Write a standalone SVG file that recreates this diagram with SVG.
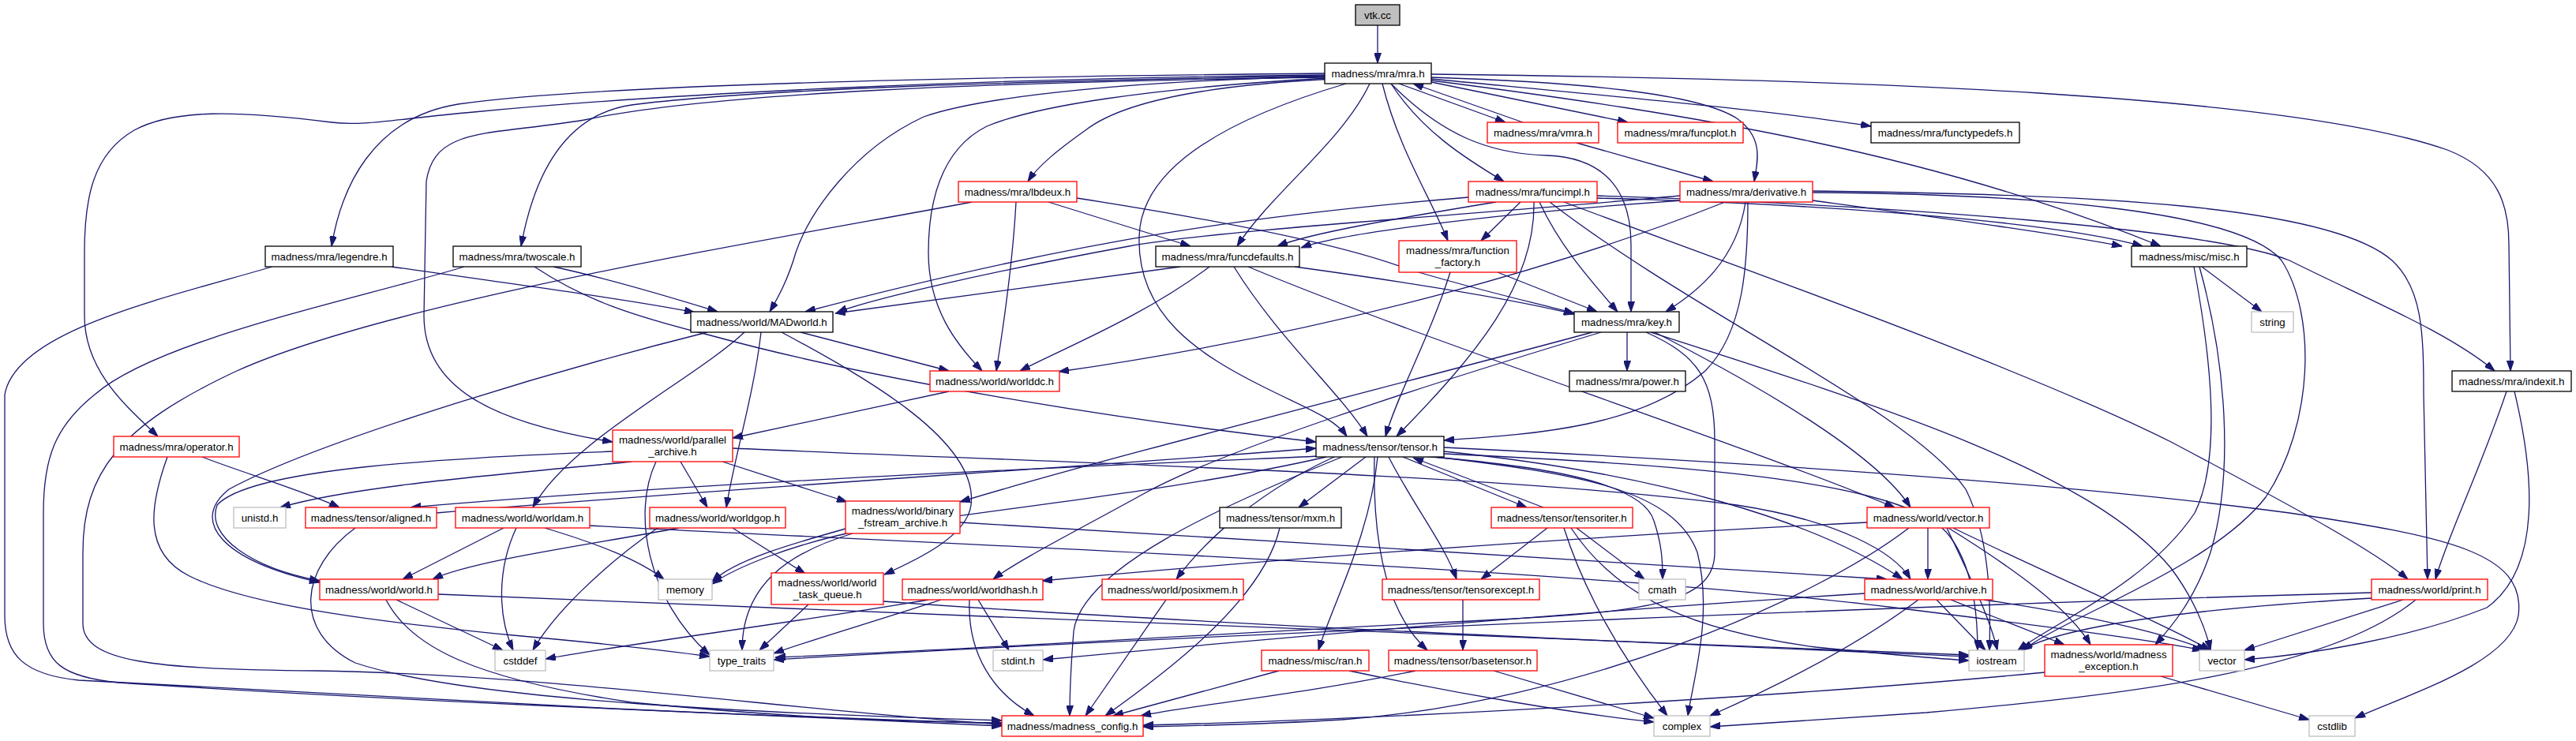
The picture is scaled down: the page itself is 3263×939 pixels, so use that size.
<svg xmlns="http://www.w3.org/2000/svg" width="3263" height="939" viewBox="0 0 3263 939">
<style>
rect{fill:#fff;stroke-width:1.3}
.k{stroke:#000}.r{stroke:#ff0000}.g{stroke:#bfbfbf}.s{fill:#bfbfbf;stroke:#000}
text{font-family:"Liberation Sans",Arial,sans-serif;font-size:13.3px;fill:#000;text-anchor:middle}
#edges path{fill:none;stroke:#191970;stroke-width:1.3;marker-end:url(#a)}
</style>
<defs><marker id="a" markerUnits="userSpaceOnUse" markerWidth="13" markerHeight="9" refX="13" refY="4.5" orient="auto"><path d="M0,0L13,4.5L0,9Z" fill="#191970" stroke="#191970" stroke-width="1"/></marker></defs>
<rect x="0" y="0" width="3263" height="939" style="fill:#fff;stroke:none"/>
<g id="edges">
<path d="M1745,32L1745,80"/>
<path d="M1678,93C1250,97 760,106 580,132C470,150 432,240 420,312"/>
<path d="M1678,96C1300,103 960,112 800,133C710,146 675,230 660,312"/>
<path d="M1678,95C1250,99 850,118 600,142C500,151 460,160 420,155C300,140 220,138 170,165C118,195 107,250 107,320L107,400C107,470 160,515 200,553"/>
<path d="M1678,98C1250,104 900,118 740,152C620,172 550,160 540,230L537,400C537,490 620,535 776,560"/>
<path d="M1690,100C1520,108 1420,130 1375,165C1340,190 1315,210 1302,230"/>
<path d="M1678,97C1450,102 1250,120 1170,148C1080,190 1025,270 1008,320C998,355 985,378 975,395"/>
<path d="M1680,99C1450,112 1310,135 1250,160C1190,190 1176,260 1176,320C1176,390 1210,435 1244,470"/>
<path d="M1735,106C1700,180 1610,245 1567,312"/>
<path d="M1705,106C1590,140 1445,200 1443,300C1440,400 1520,450 1600,490C1660,520 1690,530 1706,553"/>
<path d="M1762,106C1800,165 1855,200 1905,230"/>
<path d="M1751,106C1772,190 1812,250 1834,305"/>
<path d="M1772,106L1907,155"/>
<path d="M1929,155L1790,106"/>
<path d="M1813,104L2062,155"/>
<path d="M1813,100C2000,118 2250,140 2370,160"/>
<path d="M1813,98C2000,104 2150,118 2200,150C2235,175 2226,205 2222,230"/>
<path d="M1762,106C1825,170 1885,195 1960,197C2040,200 2066,250 2066,310L2066,395"/>
<path d="M1813,102C2150,145 2450,195 2737,312"/>
<path d="M1813,94C2350,100 2900,120 3100,190C3165,215 3178,260 3178,310L3180,470"/>
<path d="M1997,181L2170,230"/>
<path d="M1926,256L1876,305"/>
<path d="M1950,256C1975,310 2010,350 2049,395"/>
<path d="M1943,256C1945,360 1870,450 1769,553"/>
<path d="M1860,250C1600,272 1380,300 1020,395"/>
<path d="M1895,256C1780,275 1660,295 1618,312"/>
<path d="M2023,251C2300,258 2600,280 2714,312"/>
<path d="M1981,256C2150,320 2550,460 2750,560C2920,650 3010,700 3050,734"/>
<path d="M1963,256C2150,400 2420,520 2490,620C2520,680 2522,760 2520,824"/>
<path d="M2023,248C2400,260 2800,290 2900,330C3000,380 3100,420 3160,470"/>
<path d="M2128,248C1900,270 1550,290 1430,312C1250,345 1100,380 1060,396"/>
<path d="M2130,254C1900,270 1700,295 1648,314"/>
<path d="M2211,256C2200,330 2150,370 2110,395"/>
<path d="M2214,256C2214,330 2210,420 2160,470C2080,540 1950,550 1829,558"/>
<path d="M2296,254C2450,275 2600,295 2688,312"/>
<path d="M2185,256C2000,330 1700,420 1341,471"/>
<path d="M2296,244C2600,246 2840,270 2890,330C2935,400 2930,540 2870,630C2800,720 2620,780 2562,824"/>
<path d="M2296,242C2650,246 2950,260 3030,330C3068,365 3070,420 3070,500L3075,734"/>
<path d="M1231,256C1000,300 500,380 300,470C150,540 105,600 105,700L105,790C105,840 200,848 400,850C700,855 1000,900 1269,918"/>
<path d="M1287,256C1283,330 1270,420 1262,470"/>
<path d="M1328,256L1508,312"/>
<path d="M1364,251C1550,280 1700,310 1780,340C1880,370 1950,385 1994,397"/>
<path d="M496,338C650,360 800,380 880,396"/>
<path d="M345,338C200,380 20,420 6,500L6,780C6,830 30,855 100,862C400,880 900,905 1269,920"/>
<path d="M588,338C450,380 200,430 120,500C70,540 55,580 55,650L55,790C55,840 80,858 150,865C450,885 900,905 1269,917"/>
<path d="M701,338C780,355 860,380 909,395"/>
<path d="M677,338C740,380 800,400 900,425C1100,480 1400,530 1667,560"/>
<path d="M1495,338L1058,397"/>
<path d="M1532,338C1450,400 1350,440 1292,470"/>
<path d="M1563,338C1620,430 1700,500 1732,553"/>
<path d="M1581,338C1800,430 2200,560 2400,643"/>
<path d="M1640,338C1800,360 1920,380 1994,398"/>
<path d="M1897,345L2023,395"/>
<path d="M1837,345C1810,430 1770,500 1755,553"/>
<path d="M1014,421L1202,470"/>
<path d="M964,421C955,500 930,580 920,643"/>
<path d="M943,421C880,480 720,560 675,643"/>
<path d="M990,421C1100,480 1240,560 1230,640C1225,680 1160,710 1120,728"/>
<path d="M896,421C700,470 400,560 290,620C240,660 280,710 405,738"/>
<path d="M1202,496L928,555"/>
<path d="M256,579C310,600 380,620 430,643"/>
<path d="M212,579C190,640 180,700 240,730C320,770 500,790 650,805C760,815 850,825 899,832"/>
<path d="M776,572C600,580 320,590 275,640C260,680 320,720 405,736"/>
<path d="M862,585L896,643"/>
<path d="M915,585L1073,636"/>
<path d="M800,585C650,600 450,615 355,643"/>
<path d="M928,568C1300,585 1900,600 2200,640C2330,660 2400,700 2420,734"/>
<path d="M831,585C800,650 820,760 899,830"/>
<path d="M1672,578C1400,590 900,610 520,643"/>
<path d="M553,650C900,620 1400,590 1667,568"/>
<path d="M1730,579L1645,643"/>
<path d="M1745,579C1735,680 1690,760 1670,824"/>
<path d="M1741,579C1738,700 1760,780 1808,824"/>
<path d="M1759,579C1790,640 1830,690 1845,734"/>
<path d="M1777,579L1934,643"/>
<path d="M1955,643L1790,580"/>
<path d="M1800,578C1950,590 2080,610 2095,660C2105,690 2106,710 2106,734"/>
<path d="M1810,578C2000,600 2120,620 2150,700C2170,780 2145,860 2138,907"/>
<path d="M1829,572C2100,600 2300,660 2410,734"/>
<path d="M1829,567C2200,585 2600,610 2900,650C3100,680 3200,700 3190,780C3180,840 3050,880 2983,910"/>
<path d="M1829,575C2150,590 2420,610 2470,680C2500,720 2505,780 2505,824"/>
<path d="M1680,579C1500,620 1300,640 1100,670C1000,690 930,720 902,740"/>
<path d="M1690,579C1600,620 1530,680 1490,734"/>
<path d="M1700,579C1550,640 1370,720 1360,800C1356,850 1355,880 1355,907"/>
<path d="M1960,669L1876,734"/>
<path d="M1997,669L2083,734"/>
<path d="M1981,669C2010,760 2060,840 2112,907"/>
<path d="M1990,669C2050,760 2150,800 2300,820C2400,830 2460,835 2494,837"/>
<path d="M1853,760L1853,824"/>
<path d="M1793,850C1650,880 1500,895 1445,907"/>
<path d="M1892,850L2095,910"/>
<path d="M1620,850L1410,907"/>
<path d="M1709,850C1850,880 2000,905 2095,915"/>
<path d="M1621,669C1600,760 1480,850 1400,907"/>
<path d="M1477,760L1375,907"/>
<path d="M1228,760C1225,830 1260,880 1310,907"/>
<path d="M1239,760L1278,824"/>
<path d="M1192,760C1100,790 1030,810 980,828"/>
<path d="M1176,760C1000,790 800,815 691,835"/>
<path d="M1024,766L962,824"/>
<path d="M1119,762C1500,790 2100,815 2494,832"/>
<path d="M1080,676C1000,700 940,740 940,824"/>
<path d="M1071,670C1000,690 930,710 902,737"/>
<path d="M1216,662C1600,685 2100,715 2390,734"/>
<path d="M860,669C750,690 600,710 548,734"/>
<path d="M833,669C760,720 700,780 675,824"/>
<path d="M928,669L1020,727"/>
<path d="M638,669L510,734"/>
<path d="M654,669C630,720 630,780 650,824"/>
<path d="M690,669C760,690 810,710 841,734"/>
<path d="M747,666C1200,690 2000,720 2400,770C2600,795 2720,810 2790,824"/>
<path d="M489,760C520,820 600,860 800,890C1000,910 1150,915 1269,916"/>
<path d="M502,760L637,824"/>
<path d="M555,753C1200,780 2000,810 2494,830"/>
<path d="M450,669C380,720 370,800 450,840C600,890 1000,905 1269,913"/>
<path d="M2442,669L2442,734"/>
<path d="M2365,662C2000,680 1600,710 1320,736"/>
<path d="M2466,669C2490,720 2520,780 2530,824"/>
<path d="M2468,669C2550,720 2620,770 2648,817"/>
<path d="M2474,669C2600,730 2740,790 2800,824"/>
<path d="M2418,669C2300,760 2000,890 1700,912C1600,918 1500,920 1448,921"/>
<path d="M2453,760L2515,824"/>
<path d="M2471,760L2615,817"/>
<path d="M2513,760C2650,780 2750,805 2795,824"/>
<path d="M2430,760C2350,820 2250,870 2166,907"/>
<path d="M2362,752C2000,775 1600,810 1321,836"/>
<path d="M3004,758C2800,770 2620,790 2560,824"/>
<path d="M3044,760L2843,824"/>
<path d="M3060,760C2950,850 2700,880 2440,903C2300,912 2200,918 2166,921"/>
<path d="M3004,751C2500,765 1600,800 980,836"/>
<path d="M3175,496C3140,600 3100,680 3085,734"/>
<path d="M3185,496C3210,600 3220,720 3150,770C3050,810 2920,830 2843,836"/>
<path d="M2789,338L2865,395"/>
<path d="M2779,338C2800,450 2815,580 2780,650C2720,740 2600,790 2556,824"/>
<path d="M2786,338C2820,460 2830,600 2800,700C2780,760 2750,795 2730,817"/>
<path d="M2590,852C2300,880 1800,910 1448,919"/>
<path d="M2737,857L2925,912"/>
<path d="M2061,421L2061,470"/>
<path d="M2017,421C1800,480 1400,580 1216,636"/>
<path d="M2028,421C1800,490 1550,570 1450,625C1350,680 1290,710 1258,734"/>
<path d="M2085,421C2150,450 2172,480 2172,560L2172,700C2172,760 2100,775 1900,785C1500,805 1200,825 982,833"/>
<path d="M2091,421C2400,520 2650,600 2750,720C2780,760 2795,800 2800,824"/>
<path d="M2096,421C2250,500 2380,580 2420,643"/>
</g>
<g id="n_vtk"><rect class="s" x="1717" y="6" width="56" height="26"/><text x="1745" y="23.5">vtk.cc</text></g>
<g id="n_mra"><rect class="k" x="1678" y="80" width="135" height="26"/><text x="1745.5" y="97.5">madness/mra/mra.h</text></g>
<g id="n_vmra"><rect class="r" x="1884" y="155" width="141" height="26"/><text x="1954.5" y="172.5">madness/mra/vmra.h</text></g>
<g id="n_funcplot"><rect class="r" x="2049" y="155" width="159" height="26"/><text x="2128.5" y="172.5">madness/mra/funcplot.h</text></g>
<g id="n_functypedefs"><rect class="k" x="2370" y="155" width="188" height="26"/><text x="2464" y="172.5">madness/mra/functypedefs.h</text></g>
<g id="n_funcimpl"><rect class="r" x="1860" y="230" width="163" height="26"/><text x="1941.5" y="247.5">madness/mra/funcimpl.h</text></g>
<g id="n_derivative"><rect class="r" x="2128" y="230" width="168" height="26"/><text x="2212" y="247.5">madness/mra/derivative.h</text></g>
<g id="n_lbdeux"><rect class="r" x="1214" y="230" width="150" height="26"/><text x="1289" y="247.5">madness/mra/lbdeux.h</text></g>
<g id="n_function_factory"><rect class="r" x="1772" y="305" width="149" height="40"/><text x="1846.5" y="321.5">madness/mra/function</text><text x="1846.5" y="336.5">_factory.h</text></g>
<g id="n_legendre"><rect class="k" x="336" y="312" width="162" height="26"/><text x="417" y="329.5">madness/mra/legendre.h</text></g>
<g id="n_twoscale"><rect class="k" x="574" y="312" width="162" height="26"/><text x="655" y="329.5">madness/mra/twoscale.h</text></g>
<g id="n_funcdefaults"><rect class="k" x="1464" y="312" width="182" height="26"/><text x="1555" y="329.5">madness/mra/funcdefaults.h</text></g>
<g id="n_misc"><rect class="k" x="2700" y="312" width="146" height="26"/><text x="2773" y="329.5">madness/misc/misc.h</text></g>
<g id="n_MADworld"><rect class="k" x="875" y="395" width="180" height="26"/><text x="965" y="412.5">madness/world/MADworld.h</text></g>
<g id="n_key"><rect class="k" x="1994" y="395" width="133" height="26"/><text x="2060.5" y="412.5">madness/mra/key.h</text></g>
<g id="n_string"><rect class="g" x="2852" y="395" width="53" height="26"/><text x="2878.5" y="412.5">string</text></g>
<g id="n_worlddc"><rect class="r" x="1178" y="470" width="164" height="26"/><text x="1260" y="487.5">madness/world/worlddc.h</text></g>
<g id="n_power"><rect class="k" x="1988" y="470" width="147" height="26"/><text x="2061.5" y="487.5">madness/mra/power.h</text></g>
<g id="n_indexit"><rect class="k" x="3106" y="470" width="151" height="26"/><text x="3181.5" y="487.5">madness/mra/indexit.h</text></g>
<g id="n_operator"><rect class="r" x="144" y="553" width="159" height="26"/><text x="223.5" y="570.5">madness/mra/operator.h</text></g>
<g id="n_parallel_archive"><rect class="r" x="776" y="545" width="152" height="40"/><text x="852" y="561.5">madness/world/parallel</text><text x="852" y="576.5">_archive.h</text></g>
<g id="n_tensor"><rect class="k" x="1667" y="553" width="162" height="26"/><text x="1748" y="570.5">madness/tensor/tensor.h</text></g>
<g id="n_unistd"><rect class="g" x="296" y="643" width="66" height="26"/><text x="329" y="660.5">unistd.h</text></g>
<g id="n_aligned"><rect class="r" x="387" y="643" width="166" height="26"/><text x="470" y="660.5">madness/tensor/aligned.h</text></g>
<g id="n_worldam"><rect class="r" x="577" y="643" width="170" height="26"/><text x="662" y="660.5">madness/world/worldam.h</text></g>
<g id="n_worldgop"><rect class="r" x="823" y="643" width="172" height="26"/><text x="909" y="660.5">madness/world/worldgop.h</text></g>
<g id="n_binary"><rect class="r" x="1071" y="635" width="145" height="41"/><text x="1143.5" y="651.5">madness/world/binary</text><text x="1143.5" y="666.5">_fstream_archive.h</text></g>
<g id="n_mxm"><rect class="k" x="1545" y="643" width="154" height="26"/><text x="1622" y="660.5">madness/tensor/mxm.h</text></g>
<g id="n_tensoriter"><rect class="r" x="1889" y="643" width="179" height="26"/><text x="1978.5" y="660.5">madness/tensor/tensoriter.h</text></g>
<g id="n_vector_h"><rect class="r" x="2365" y="643" width="155" height="26"/><text x="2442.5" y="660.5">madness/world/vector.h</text></g>
<g id="n_world"><rect class="r" x="405" y="734" width="150" height="26"/><text x="480" y="751.5">madness/world/world.h</text></g>
<g id="n_memory"><rect class="g" x="834" y="734" width="68" height="26"/><text x="868" y="751.5">memory</text></g>
<g id="n_world_task_queue"><rect class="r" x="977" y="726" width="142" height="40"/><text x="1048" y="742.5">madness/world/world</text><text x="1048" y="757.5">_task_queue.h</text></g>
<g id="n_worldhash"><rect class="r" x="1143" y="734" width="178" height="26"/><text x="1232" y="751.5">madness/world/worldhash.h</text></g>
<g id="n_posixmem"><rect class="r" x="1396" y="734" width="179" height="26"/><text x="1485.5" y="751.5">madness/world/posixmem.h</text></g>
<g id="n_tensorexcept"><rect class="r" x="1751" y="734" width="199" height="26"/><text x="1850.5" y="751.5">madness/tensor/tensorexcept.h</text></g>
<g id="n_cmath"><rect class="g" x="2076" y="734" width="59" height="26"/><text x="2105.5" y="751.5">cmath</text></g>
<g id="n_archive"><rect class="r" x="2362" y="734" width="162" height="26"/><text x="2443" y="751.5">madness/world/archive.h</text></g>
<g id="n_print"><rect class="r" x="3004" y="734" width="147" height="26"/><text x="3077.5" y="751.5">madness/world/print.h</text></g>
<g id="n_cstddef"><rect class="g" x="627" y="824" width="64" height="26"/><text x="659" y="841.5">cstddef</text></g>
<g id="n_type_traits"><rect class="g" x="899" y="824" width="81" height="26"/><text x="939.5" y="841.5">type_traits</text></g>
<g id="n_stdint"><rect class="g" x="1258" y="824" width="63" height="26"/><text x="1289.5" y="841.5">stdint.h</text></g>
<g id="n_ran"><rect class="r" x="1598" y="824" width="136" height="26"/><text x="1666" y="841.5">madness/misc/ran.h</text></g>
<g id="n_basetensor"><rect class="r" x="1759" y="824" width="188" height="26"/><text x="1853" y="841.5">madness/tensor/basetensor.h</text></g>
<g id="n_iostream"><rect class="g" x="2494" y="824" width="70" height="26"/><text x="2529" y="841.5">iostream</text></g>
<g id="n_madness_exception"><rect class="r" x="2590" y="817" width="162" height="40"/><text x="2671" y="833.5">madness/world/madness</text><text x="2671" y="848.5">_exception.h</text></g>
<g id="n_vector"><rect class="g" x="2786" y="824" width="57" height="26"/><text x="2814.5" y="841.5">vector</text></g>
<g id="n_madness_config"><rect class="r" x="1269" y="907" width="179" height="26"/><text x="1358.5" y="924.5">madness/madness_config.h</text></g>
<g id="n_complex"><rect class="g" x="2095" y="907" width="71" height="26"/><text x="2130.5" y="924.5">complex</text></g>
<g id="n_cstdlib"><rect class="g" x="2925" y="907" width="58" height="26"/><text x="2954" y="924.5">cstdlib</text></g>
</svg>
